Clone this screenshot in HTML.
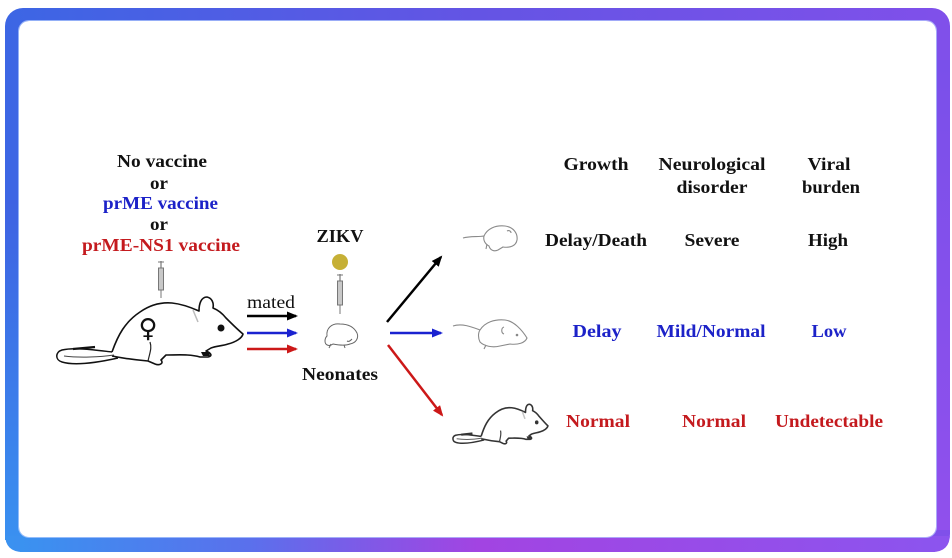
<!DOCTYPE html>
<html><head><meta charset="utf-8"><style>
html,body{margin:0;padding:0;background:#fff;}
svg{display:block;}
text{font-family:"Liberation Serif",serif;font-weight:bold;font-size:18px;}
</style></head><body>
<svg width="952" height="558" viewBox="0 0 952 558" xmlns="http://www.w3.org/2000/svg">
<defs>
<linearGradient id="gh" x1="0" y1="0" x2="1" y2="0">
<stop offset="0" stop-color="#3c66e4"/>
<stop offset="0.5" stop-color="#6454e4"/>
<stop offset="1" stop-color="#8050ea"/>
</linearGradient>
<linearGradient id="gb" x1="0" y1="0" x2="1" y2="0">
<stop offset="0" stop-color="#3a92f0"/>
<stop offset="0.25" stop-color="#5a70ec"/>
<stop offset="0.5" stop-color="#a244e2"/>
<stop offset="1" stop-color="#8c54ee"/>
</linearGradient>
<linearGradient id="gl" x1="0" y1="0" x2="0" y2="1">
<stop offset="0" stop-color="#3e62e2"/>
<stop offset="1" stop-color="#3a90f0"/>
</linearGradient>
<linearGradient id="gr" x1="0" y1="0" x2="0" y2="1">
<stop offset="0" stop-color="#7a50ea"/>
<stop offset="1" stop-color="#9050ec"/>
</linearGradient>
<marker id="mk" markerUnits="userSpaceOnUse" markerWidth="11" markerHeight="9" refX="9" refY="4.5" orient="auto"><path d="M0,0 L11,4.5 L0,9 z" fill="#000"/></marker>
<marker id="mb" markerUnits="userSpaceOnUse" markerWidth="11" markerHeight="9" refX="9" refY="4.5" orient="auto"><path d="M0,0 L11,4.5 L0,9 z" fill="#1a22d0"/></marker>
<marker id="mr" markerUnits="userSpaceOnUse" markerWidth="11" markerHeight="9" refX="9" refY="4.5" orient="auto"><path d="M0,0 L11,4.5 L0,9 z" fill="#cc1818"/></marker>
<g id="mouse">
<path d="M112,352 C118,335 125,322 140,312 C150,305 160,302 172,303 C182,304 190,307 199,311 C199,304 201,297 207,297 C212,298 214,303 213,308 C218,310 222,313 226,318 C232,324 238,330 243,334 C242,338 236,342 228,344 C222,346 216,346 211,348 L206,351 C211,353 213,356 208,357 L200,357 C190,354 178,355 166,355 L161,360 C164,363 160,366 155,364 L148,361 C135,360 122,358 112,356" fill="none" stroke="#111" stroke-width="1.6" vector-effect="non-scaling-stroke" stroke-linejoin="round"/>
<path d="M112,352 C95,350 75,347 62,350 C55,352 55,360 62,362 C75,366 100,362 118,358" fill="none" stroke="#111" stroke-width="1.5" vector-effect="non-scaling-stroke"/>
<path d="M64,356 C80,358 100,357 114,355" fill="none" stroke="#444" stroke-width="1" vector-effect="non-scaling-stroke"/>
<path d="M73,349 L95,347" stroke="#111" stroke-width="2.2" vector-effect="non-scaling-stroke"/>
<path d="M148,361 C150,352 152,348 150,342" fill="none" stroke="#222" stroke-width="1.2" vector-effect="non-scaling-stroke"/>
<path d="M193,310 L198,322" stroke="#bbb" stroke-width="1.5" vector-effect="non-scaling-stroke"/>
<path d="M201,352 L209,352 L210,356 L203,356 z" fill="#111"/>
<circle cx="221" cy="328" r="3.5" fill="#111"/>
</g>
</defs>

<!-- frame -->
<rect x="5" y="8" width="945" height="544" rx="18" fill="url(#gh)"/>
<rect x="5" y="200" width="18" height="340" fill="url(#gl)"/>
<rect x="932" y="60" width="18" height="470" fill="url(#gr)"/>
<path d="M5,530 L5,534 Q5,552 23,552 L932,552 Q950,552 950,534 L950,530 L950,536 L5,536 z" fill="url(#gb)"/>
<rect x="20" y="536" width="915" height="16" fill="url(#gb)"/>
<rect x="19" y="21" width="917" height="516" rx="10" fill="#fff"/>
<rect x="18.5" y="20.5" width="918" height="517" rx="10.5" fill="none" stroke="#b8d0ff" stroke-width="1" opacity="0.7"/>

<!-- left labels -->
<text x="162" y="167" text-anchor="middle" textLength="90" lengthAdjust="spacingAndGlyphs" fill="#111">No vaccine</text>
<text x="159" y="189" text-anchor="middle" textLength="18" lengthAdjust="spacingAndGlyphs" fill="#111">or</text>
<text x="160.5" y="209" text-anchor="middle" textLength="115" lengthAdjust="spacingAndGlyphs" fill="#1c22c8">prME vaccine</text>
<text x="159" y="230" text-anchor="middle" textLength="18" lengthAdjust="spacingAndGlyphs" fill="#111">or</text>
<text x="161" y="251" text-anchor="middle" textLength="158" lengthAdjust="spacingAndGlyphs" fill="#c41a1e">prME-NS1 vaccine</text>

<!-- syringe 1 -->
<g stroke="#777" fill="none">
<line x1="161" y1="261" x2="161" y2="268" stroke-width="1.2"/>
<line x1="158" y1="262" x2="164" y2="262" stroke-width="1"/>
<rect x="158.5" y="268" width="5" height="22" fill="#c8c8c8" stroke-width="1"/>
<line x1="161" y1="290" x2="161" y2="298" stroke-width="1"/>
</g>

<use href="#mouse"/>
<text x="148" y="337" text-anchor="middle" style="font-weight:bold;font-size:26px;font-family:'DejaVu Sans',sans-serif" fill="#111">♀</text>

<!-- mated -->
<text x="271" y="308" text-anchor="middle" textLength="48" lengthAdjust="spacingAndGlyphs" style="font-weight:normal" fill="#111">mated</text>
<line x1="247" y1="316" x2="296" y2="316" stroke="#000" stroke-width="2.5" marker-end="url(#mk)"/>
<line x1="247" y1="333" x2="296" y2="333" stroke="#1a22d0" stroke-width="2.5" marker-end="url(#mb)"/>
<line x1="247" y1="349" x2="296" y2="349" stroke="#cc1818" stroke-width="2.5" marker-end="url(#mr)"/>

<!-- ZIKV -->
<text x="340" y="242" text-anchor="middle" textLength="47" lengthAdjust="spacingAndGlyphs" fill="#111">ZIKV</text>
<circle cx="340" cy="262" r="8" fill="#c6b036"/>
<g stroke="#777" fill="none">
<line x1="340" y1="274" x2="340" y2="281" stroke-width="1.2"/>
<line x1="337" y1="275" x2="343" y2="275" stroke-width="1"/>
<rect x="337.5" y="281" width="5" height="24" fill="#c8c8c8" stroke-width="1"/>
<line x1="340" y1="305" x2="340" y2="314" stroke-width="1"/>
</g>
<!-- neonate -->
<g fill="none" stroke="#666" stroke-width="1">
<path d="M327,336 C326,328 332,323 340,324 C348,324 354,327 357,333 C359,338 356,343 350,344 C345,346 338,345 333,344 C329,347 325,345 325,341 C325,339 326,337 327,336 z"/>
<path d="M331,344 L329,348 M344,345 L345,348 M352,339 C350,341 349,342 347,341"/>
</g>
<text x="340" y="380" text-anchor="middle" textLength="76" lengthAdjust="spacingAndGlyphs" fill="#111">Neonates</text>

<!-- branch arrows -->
<line x1="387" y1="322" x2="441" y2="257" stroke="#000" stroke-width="2.5" marker-end="url(#mk)"/>
<line x1="390" y1="333" x2="441" y2="333" stroke="#1a22d0" stroke-width="2.5" marker-end="url(#mb)"/>
<line x1="388" y1="345" x2="442" y2="415" stroke="#cc1818" stroke-width="2.5" marker-end="url(#mr)"/>

<!-- right mice -->
<g fill="none" stroke="#8a8a8a" stroke-width="1.1">
<path d="M463,238 C470,236 478,237 484,236"/>
<path d="M484,236 C487,229 495,225 505,226 C513,227 518,233 517,240 C516,246 510,248 503,247 L498,250 C494,252 490,250 489,246 C485,244 483,240 484,236 z"/>
<path d="M487,244 L486,249 M507,231 C509,230 511,231 511,233"/>
</g>
<g fill="none" stroke="#8a8a8a" stroke-width="1.1">
<path d="M453,326 C462,323 472,327 480,330"/>
<path d="M480,330 C485,322 495,319 505,320 C514,321 522,330 527,338 C525,343 518,345 510,344 L500,346 C492,348 484,346 480,342 C478,338 478,333 480,330 z"/>
<path d="M504,327 C501,328 501,333 504,334"/>
<path d="M486,345 L484,349"/>
</g>
<circle cx="517" cy="335" r="1.3" fill="#888"/>
<g opacity="0.85"><use href="#mouse" transform="translate(424,230.5) scale(0.51,0.585)"/></g>

<!-- table -->
<text x="596" y="170" text-anchor="middle" textLength="65" lengthAdjust="spacingAndGlyphs" fill="#111">Growth</text>
<text x="712" y="170" text-anchor="middle" textLength="107" lengthAdjust="spacingAndGlyphs" fill="#111">Neurological</text>
<text x="712" y="193" text-anchor="middle" textLength="71" lengthAdjust="spacingAndGlyphs" fill="#111">disorder</text>
<text x="829" y="170" text-anchor="middle" textLength="43" lengthAdjust="spacingAndGlyphs" fill="#111">Viral</text>
<text x="831" y="193" text-anchor="middle" textLength="58" lengthAdjust="spacingAndGlyphs" fill="#111">burden</text>

<text x="596" y="246" text-anchor="middle" textLength="102" lengthAdjust="spacingAndGlyphs" fill="#111">Delay/Death</text>
<text x="712" y="246" text-anchor="middle" textLength="55" lengthAdjust="spacingAndGlyphs" fill="#111">Severe</text>
<text x="828" y="246" text-anchor="middle" textLength="40" lengthAdjust="spacingAndGlyphs" fill="#111">High</text>

<text x="597" y="337" text-anchor="middle" textLength="49" lengthAdjust="spacingAndGlyphs" fill="#1c22c8">Delay</text>
<text x="711" y="337" text-anchor="middle" textLength="109" lengthAdjust="spacingAndGlyphs" fill="#1c22c8">Mild/Normal</text>
<text x="829" y="337" text-anchor="middle" textLength="35" lengthAdjust="spacingAndGlyphs" fill="#1c22c8">Low</text>

<text x="598" y="427" text-anchor="middle" textLength="64" lengthAdjust="spacingAndGlyphs" fill="#c41a1e">Normal</text>
<text x="714" y="427" text-anchor="middle" textLength="64" lengthAdjust="spacingAndGlyphs" fill="#c41a1e">Normal</text>
<text x="829" y="427" text-anchor="middle" textLength="108" lengthAdjust="spacingAndGlyphs" fill="#c41a1e">Undetectable</text>
</svg>
</body></html>
